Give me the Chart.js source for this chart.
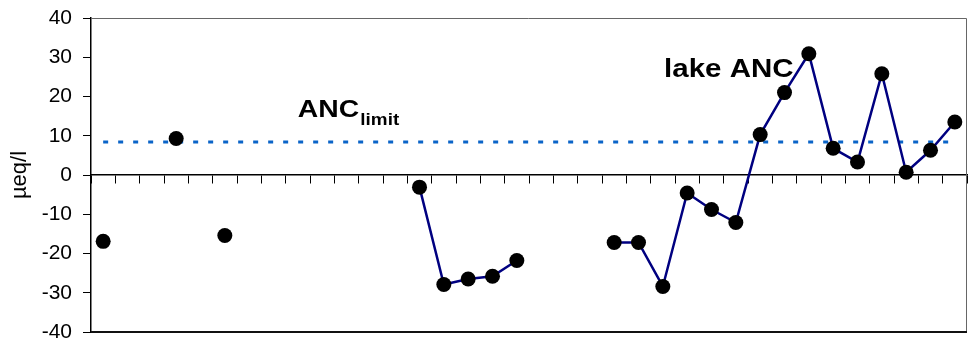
<!DOCTYPE html>
<html>
<head>
<meta charset="utf-8">
<script src="https://cdn.jsdelivr.net/npm/chart.js@4"></script>
<style>
    body { margin: 0; background: #fff; }
    #wrap { width: 980px; height: 344px; }
</style>
</head>
<body>
<div id="wrap"><canvas id="ancChart" width="980" height="344"></canvas></div>
<script>
// 36 sampling slots along the x axis, no labels shown
const categories = Array.from({length: 36}, () => '');

// lake ANC (µeq/l), null where there is no sample
const lakeAnc = [
    -16.9, null, null, 9.3, null, -15.4, null, null, null, null,
    null, null, null, -3.1, -27.9, -26.5, -25.8, -21.8, null, null,
    null, -17.2, -17.2, -28.4, -4.6, -8.8, -12.1, 10.3, 21.0, 30.9,
    6.8, 3.3, 25.8, 0.7, 6.3, 13.5
];

const ancLimit = 8.4;
const limitLine = categories.map(() => ancLimit);

const yTicks = {min: -40, max: 40, step: 10};

// text labels: main text, subscript, category position, value at baseline
const notes = [
    {text: 'ANC', sub: 'limit', x: 8.0, y: 14.9, size: 24, subSize: 16},
    {text: 'lake ANC', sub: '', x: 23.05, y: 25.0, size: 25, subSize: 0}
];

const FONT = "'Liberation Sans', Arial, sans-serif";

const framePlugin = {
    id: 'frame',
    afterDraw(chart) {
        const {ctx, chartArea: a} = chart;
        ctx.save();
        ctx.lineWidth = 1;
        ctx.strokeStyle = '#666';
        ctx.beginPath();
        ctx.moveTo(a.left, a.top + 0.5);
        ctx.lineTo(a.right - 0.5, a.top + 0.5);
        ctx.lineTo(a.right - 0.5, a.bottom);
        ctx.stroke();
        ctx.strokeStyle = '#111';
        ctx.lineWidth = 2;
        ctx.beginPath();
        ctx.moveTo(a.left, a.bottom);
        ctx.lineTo(a.right, a.bottom);
        ctx.stroke();
        ctx.restore();
    }
};

const notesPlugin = {
    id: 'notes',
    afterDraw(chart) {
        const ctx = chart.ctx;
        const xs = chart.scales.x, ys = chart.scales.y;
        ctx.save();
        ctx.fillStyle = '#000';
        ctx.textBaseline = 'alphabetic';
        ctx.textAlign = 'left';
        notes.forEach(n => {
            const px = xs.getPixelForValue(n.x);
            const py = ys.getPixelForValue(n.y);
            ctx.save();
            ctx.translate(px, py);
            ctx.scale(1.18, 1);
            ctx.font = 'bold ' + n.size + 'px ' + FONT;
            ctx.fillText(n.text, 0, 0);
            const w = ctx.measureText(n.text).width;
            if (n.sub) {
                ctx.font = 'bold ' + n.subSize + 'px ' + FONT;
                ctx.fillText(n.sub, w + 1, 8);
            }
            ctx.restore();
        });
        ctx.restore();
    }
};

new Chart(document.getElementById('ancChart'), {
    type: 'line',
    data: {
        labels: categories,
        datasets: [
            {
                label: 'lake ANC',
                data: lakeAnc,
                borderColor: '#000080',
                borderWidth: 2.5,
                pointRadius: 7.5,
                pointBackgroundColor: '#000',
                pointBorderWidth: 0,
                spanGaps: false,
                tension: 0
            },
            {
                label: 'ANC limit',
                data: limitLine,
                borderColor: '#0a64c8',
                borderWidth: 3,
                borderDash: [5, 10],
                pointRadius: 0,
                tension: 0
            }
        ]
    },
    options: {
        responsive: false,
        animation: false,
        devicePixelRatio: 1,
        layout: {padding: {top: 18, right: 13, bottom: 12, left: 0}},
        plugins: {
            legend: {display: false},
            tooltip: {enabled: false}
        },
        scales: {
            x: {
                type: 'category',
                position: {y: 0},
                offset: true,
                afterFit: scale => { scale.height = 0; },
                grid: {
                    offset: true,
                    drawOnChartArea: false,
                    drawTicks: true,
                    tickLength: 8,
                    color: '#000',
                    lineWidth: 1
                },
                border: {display: true, color: '#000', width: 1.5},
                ticks: {display: false, autoSkip: false}
            },
            y: {
                min: yTicks.min,
                max: yTicks.max,
                afterFit: scale => {
                    scale.width = 91;
                    scale.paddingTop = 0;
                    scale.paddingBottom = 0;
                },
                grid: {
                    drawOnChartArea: false,
                    drawTicks: true,
                    tickLength: 8,
                    color: '#000'
                },
                border: {display: true, color: '#000', width: 1.5},
                ticks: {
                    stepSize: yTicks.step,
                    padding: 11,
                    color: '#000',
                    font: {size: 21, family: FONT}
                },
                title: {
                    display: true,
                    text: 'µeq/l',
                    color: '#000',
                    padding: {top: 7, bottom: 0},
                    font: {size: 22, family: FONT}
                }
            }
        }
    },
    plugins: [framePlugin, notesPlugin]
});
</script>
</body>
</html>
